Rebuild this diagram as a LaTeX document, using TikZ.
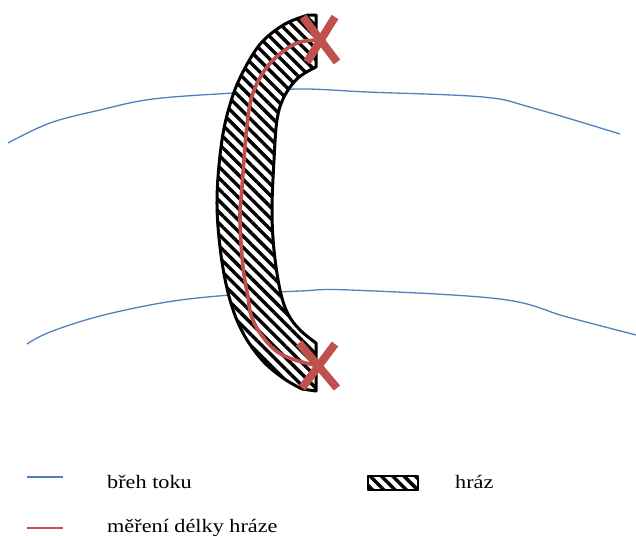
\documentclass[tikz,border=0pt]{standalone}
\usepackage{fontspec}
\setmainfont[FakeStretch=1.17]{Liberation Serif}
\usetikzlibrary{patterns.meta}
\definecolor{bankblue}{HTML}{4F81BD}
\definecolor{measred}{HTML}{C0504D}
\tikzset{
  bank/.style={draw=bankblue, line width=1.3pt},
  measure/.style={draw=measred, line width=3.6pt},
  cross/.style={draw=measred, line width=8pt},
  damhatch/.style={preaction={fill=white},
    pattern={Lines[angle=-45, distance=8pt, line width=3.4pt]},
    draw=black, line width=3pt, line join=round},
  legendtext/.style={anchor=base west, inner sep=0pt, font=\fontsize{19}{22}\selectfont}
}
\begin{document}
\begin{tikzpicture}[x=1pt, y=-1pt]
\useasboundingbox (0,0) rectangle (636,536);

% river banks
\draw[bank] plot[smooth, tension=0.6] coordinates {(8,143) (50,123) (100,110) (153,99) (233,93) (300,89) (367,92) (483,97) (533,108) (620,134)};
\draw[bank] plot[smooth, tension=0.6] coordinates {(27,344) (50,332) (100,316) (167,302) (230,295) (300,291) (350,290) (500,299) (567,317) (636,335)};

% dam body
\path[damhatch]
  plot[smooth, tension=0.6] coordinates {(308,15) (285,24) (262,42) (245,68) (232,98) (222,140) (217,200) (221,255) (230,300) (243,333) (262,360) (283,378) (302,389)}
  -- (316,391) -- (316,343)
  -- plot[smooth, tension=0.6] coordinates {(316,343) (300,330) (288,314) (280,290) (274,250) (272,210) (274,160) (277,120) (284,97) (298,78) (316,67)}
  -- (316,15) -- cycle;

% measured crest length
\draw[measure] plot[smooth, tension=0.6] coordinates {(318,40) (300,42) (285,50) (267,67) (253,93) (247,125) (242,187) (240,220) (243,267) (248,297) (251,315) (260,333) (275,350) (292,359) (318,366)};

% end points of the measurement
\coordinate (xa1) at (303,17); \coordinate (xa2) at (337,62);
\coordinate (xa3) at (335,17); \coordinate (xa4) at (307,62);
\draw[cross] (xa1) -- (xa2);
\draw[cross] (xa3) -- (xa4);
\coordinate (xb1) at (299,343); \coordinate (xb2) at (337,388);
\coordinate (xb3) at (335,344); \coordinate (xb4) at (302,388);
\draw[cross] (xb1) -- (xb2);
\draw[cross] (xb3) -- (xb4);

% legend
\coordinate (lb1) at (27,477); \coordinate (lb2) at (63,477);
\draw[bank] (lb1) -- (lb2);
\node[legendtext] (tbank) at (107,488) {břeh toku};
\coordinate (lr1) at (27,528); \coordinate (lr2) at (63,528);
\draw[draw=measred, line width=1.3pt] (lr1) -- (lr2);
\node[legendtext] (tmeas) at (107,532) {měření délky hráze};
\path[damhatch, line width=2.5pt] (368,476) rectangle (418,490);
\node[legendtext] (tdam) at (455,488) {hráz};
\end{tikzpicture}
\end{document}
